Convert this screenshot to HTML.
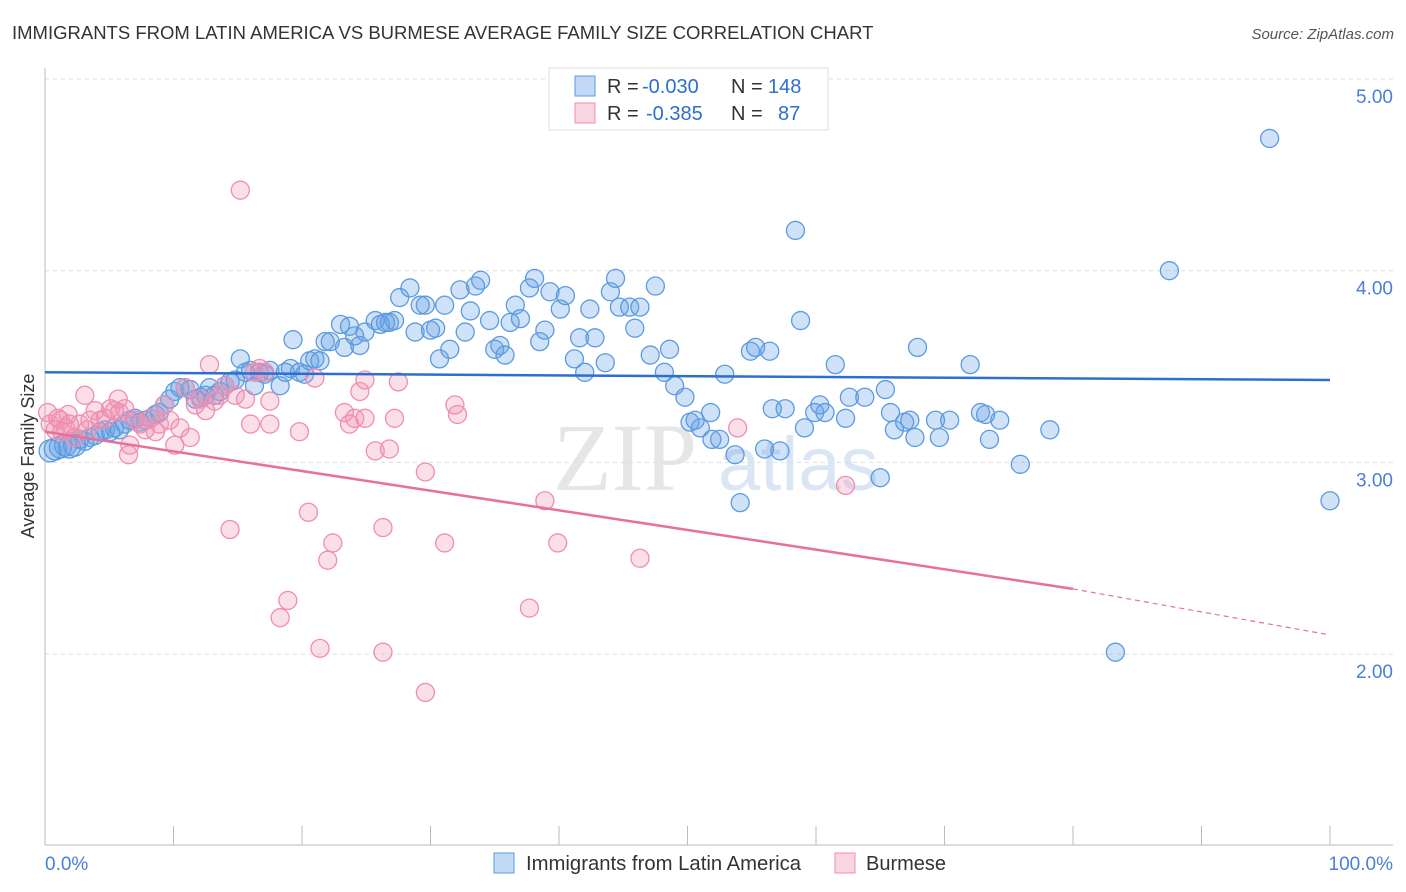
<!DOCTYPE html>
<html><head><meta charset="utf-8"><style>
body{margin:0;background:#fff;font-family:"Liberation Sans",sans-serif}
svg{display:block}
</style></head><body>
<svg id="chart" width="1406" height="892" xmlns="http://www.w3.org/2000/svg" font-family="Liberation Sans, sans-serif">
<text x="12" y="39" font-size="18.5" fill="#333">IMMIGRANTS FROM LATIN AMERICA VS BURMESE AVERAGE FAMILY SIZE CORRELATION CHART</text>
<text x="1394" y="39" font-size="15" fill="#555" text-anchor="end" font-style="italic">Source: ZipAtlas.com</text>
<g><text x="553" y="490" font-size="96" fill="#e6e6e6" font-family="Liberation Serif, serif">ZIP</text><text x="718" y="490" font-size="76" fill="#dbe6f5">atlas</text></g>
<g id="grid"></g><g id="axes"></g><g id="pts"></g><g id="trend"></g>
<text transform="translate(34,456) rotate(-90)" font-size="18" fill="#333" text-anchor="middle">Average Family Size</text>
<text x="45" y="870" font-size="19" fill="#4a7fd8">0.0%</text>
<text x="1393" y="870" font-size="19" fill="#4a7fd8" text-anchor="end">100.0%</text>
<g>
<rect x="549" y="68" width="279" height="62" fill="#fff" stroke="#ddd"/>
<rect x="575" y="76" width="20" height="20" fill="rgba(100,160,230,0.4)" stroke="#5b9be0"/>
<rect x="575" y="103" width="20" height="20" fill="rgba(240,150,180,0.4)" stroke="#f08db0"/>
<text x="607" y="93" font-size="20" fill="#333">R =</text>
<text x="642" y="93" font-size="20" fill="#2c6fd0">-0.030</text>
<text x="731" y="93" font-size="20" fill="#333">N =</text>
<text x="768" y="93" font-size="20" fill="#2c6fd0">148</text>
<text x="607" y="120" font-size="20" fill="#333">R =</text>
<text x="646" y="120" font-size="20" fill="#2c6fd0">-0.385</text>
<text x="731" y="120" font-size="20" fill="#333">N =</text>
<text x="778" y="120" font-size="20" fill="#2c6fd0">87</text>
</g>
<g>
<rect x="494" y="853" width="20" height="20" fill="rgba(100,160,230,0.4)" stroke="#5b9be0"/>
<text x="526" y="870" font-size="20.3" fill="#333">Immigrants from Latin America</text>
<rect x="835" y="853" width="20" height="20" fill="rgba(240,150,180,0.4)" stroke="#f08db0"/>
<text x="866" y="870" font-size="20" fill="#333">Burmese</text>
</g>
</svg>
<script>
const yTicks=[5,4,3,2];
const yTickLabels=["5.00","4.00","3.00","2.00"];
const xTicks=[0,10,20,30,40,50,60,70,80,90,100];
const blue=[[0.4,3.06],[0.8,3.07],[1.2,3.08],[1.6,3.09],[1.9,3.08],[2.3,3.09],[2.7,3.12],[3.1,3.11],[3.5,3.13],[3.9,3.14],[4.3,3.16],[4.7,3.17],[5.1,3.16],[5.4,3.18],[5.8,3.17],[6.2,3.20],[6.6,3.22],[7.0,3.23],[7.4,3.21],[7.8,3.22],[8.2,3.23],[8.6,3.25],[8.9,3.26],[9.3,3.30],[9.7,3.33],[10.1,3.37],[10.5,3.39],[10.9,3.39],[11.3,3.38],[11.7,3.33],[12.1,3.34],[12.5,3.35],[12.8,3.39],[13.2,3.35],[13.6,3.37],[14.0,3.40],[14.4,3.42],[14.8,3.43],[15.2,3.54],[15.6,3.47],[16.0,3.48],[16.3,3.40],[16.7,3.47],[17.1,3.46],[17.5,3.48],[18.3,3.40],[18.7,3.47],[19.1,3.49],[19.3,3.64],[19.8,3.47],[20.2,3.46],[20.6,3.53],[21.0,3.54],[21.4,3.53],[21.8,3.63],[22.2,3.63],[23.0,3.72],[23.3,3.60],[23.7,3.71],[24.1,3.66],[24.5,3.61],[24.9,3.68],[25.7,3.74],[26.1,3.72],[26.5,3.73],[26.8,3.73],[27.2,3.74],[27.6,3.86],[28.4,3.91],[28.8,3.68],[29.2,3.82],[29.6,3.82],[30.0,3.69],[30.4,3.70],[30.7,3.54],[31.1,3.82],[31.5,3.59],[32.3,3.90],[32.7,3.68],[33.1,3.79],[33.5,3.92],[33.9,3.95],[34.6,3.74],[35.0,3.59],[35.4,3.61],[35.8,3.56],[36.2,3.73],[36.6,3.82],[37.0,3.75],[37.7,3.91],[38.1,3.96],[38.5,3.63],[38.9,3.69],[39.3,3.89],[40.1,3.80],[40.5,3.87],[41.2,3.54],[41.6,3.65],[42.0,3.47],[42.4,3.80],[42.8,3.65],[43.6,3.52],[44.0,3.89],[44.4,3.96],[44.7,3.81],[45.5,3.81],[45.9,3.70],[46.3,3.81],[47.1,3.56],[47.5,3.92],[48.2,3.47],[48.6,3.59],[49.0,3.40],[49.8,3.34],[50.2,3.21],[50.6,3.22],[51.0,3.18],[51.8,3.26],[51.9,3.12],[52.5,3.12],[52.9,3.46],[53.7,3.04],[54.1,2.79],[54.9,3.58],[55.3,3.60],[56.0,3.07],[56.4,3.58],[56.6,3.28],[57.2,3.06],[57.6,3.28],[58.4,4.21],[58.8,3.74],[59.1,3.18],[59.9,3.26],[60.3,3.30],[60.7,3.26],[61.5,3.51],[62.3,3.23],[62.6,3.34],[63.8,3.34],[65.0,2.92],[65.4,3.38],[65.8,3.26],[66.1,3.17],[66.9,3.21],[67.3,3.22],[67.7,3.13],[67.9,3.60],[69.3,3.22],[69.6,3.13],[70.4,3.22],[72.0,3.51],[72.8,3.26],[73.2,3.25],[73.5,3.12],[74.3,3.22],[75.9,2.99],[78.2,3.17],[83.3,2.01],[87.5,4.00],[95.3,4.69],[100,2.80]];
const pink=[[0.2,3.26],[0.4,3.20],[0.8,3.17],[1.0,3.23],[1.2,3.22],[1.3,3.16],[1.6,3.18],[1.8,3.25],[1.9,3.20],[2.3,3.13],[2.7,3.20],[3.1,3.35],[3.3,3.17],[3.5,3.22],[3.9,3.27],[4.3,3.22],[4.7,3.23],[5.1,3.28],[5.4,3.27],[5.7,3.33],[5.8,3.26],[6.2,3.28],[6.5,3.04],[6.6,3.09],[7.0,3.22],[7.4,3.20],[7.8,3.17],[8.2,3.23],[8.6,3.16],[8.9,3.20],[9.3,3.30],[9.7,3.22],[10.1,3.09],[10.5,3.18],[10.9,3.39],[11.3,3.13],[11.7,3.30],[12.1,3.33],[12.5,3.27],[12.8,3.51],[13.2,3.32],[13.6,3.35],[14.0,3.40],[14.4,2.65],[14.8,3.35],[15.2,4.42],[15.6,3.33],[16.0,3.20],[16.3,3.47],[16.7,3.49],[17.1,3.47],[17.5,3.32],[17.5,3.20],[18.3,2.19],[18.9,2.28],[19.8,3.16],[20.5,2.74],[21.0,3.44],[21.4,2.03],[22.0,2.49],[22.4,2.58],[23.3,3.26],[23.7,3.20],[24.1,3.23],[24.5,3.37],[24.9,3.43],[24.9,3.23],[25.7,3.06],[26.3,2.66],[26.8,3.07],[27.2,3.23],[27.5,3.42],[29.6,2.95],[29.6,1.80],[26.3,2.01],[31.1,2.58],[31.9,3.30],[32.1,3.25],[37.7,2.24],[38.9,2.80],[39.9,2.58],[46.3,2.50],[53.9,3.18],[62.3,2.88]];
const blueTrend=[[0,3.47],[100,3.43]];
const pinkTrend=[[0,3.16],[80,2.34],[100,2.10]];
const X=v=>45+v*12.85, Y=v=>1037.5-v*191.7;
const NS="http://www.w3.org/2000/svg";
function mk(p,t,a){const e=document.createElementNS(NS,t);for(const k in a)e.setAttribute(k,a[k]);p.appendChild(e);return e;}
const grid=document.getElementById('grid'),axes=document.getElementById('axes'),pts=document.getElementById('pts'),tr=document.getElementById('trend');
yTicks.forEach((t,i)=>{const l=mk(grid,'line',{x1:45,x2:1393,y1:Y(t),y2:Y(t),stroke:'#ddd','stroke-dasharray':'4,4'});


const tx=mk(grid,'text',{x:1393,y:Y(t)+24,'font-size':19,fill:'#4a7fd8','text-anchor':'end'});tx.textContent=yTickLabels[i];

});
const ax=mk(axes,'line',{x1:45,x2:1393,y1:845,y2:845,stroke:'#bbb'});


const ay=mk(axes,'line',{x1:45,x2:45,y1:68,y2:845,stroke:'#bbb'});


xTicks.forEach(t=>{const l=mk(axes,'line',{x1:X(t),x2:X(t),y1:826,y2:845,stroke:'#bbb'});

});
blue.forEach((d,i)=>{const c=mk(pts,'circle',{cx:X(d[0]),cy:Y(d[1]),r:i<6?11:9,fill:'rgba(100,160,230,0.3)',stroke:'#5b9be0','stroke-width':1.3});

});
pink.forEach(d=>{const c=mk(pts,'circle',{cx:X(d[0]),cy:Y(d[1]),r:9,fill:'rgba(240,150,180,0.3)',stroke:'#f08db0','stroke-width':1.3});

});
const bl=mk(tr,'line',{x1:X(blueTrend[0][0]),y1:Y(blueTrend[0][1]),x2:X(blueTrend[1][0]),y2:Y(blueTrend[1][1]),stroke:'#2c6fd0','stroke-width':2.5});


const pl=mk(tr,'line',{x1:X(pinkTrend[0][0]),y1:Y(pinkTrend[0][1]),x2:X(pinkTrend[1][0]),y2:Y(pinkTrend[1][1]),stroke:'#e8709a','stroke-width':2.5});


const pd=mk(tr,'line',{x1:X(pinkTrend[1][0]),y1:Y(pinkTrend[1][1]),x2:X(pinkTrend[2][0]),y2:Y(pinkTrend[2][1]),stroke:'#e8709a','stroke-width':1.2,'stroke-dasharray':'5,4'});


</script>
</body></html>
